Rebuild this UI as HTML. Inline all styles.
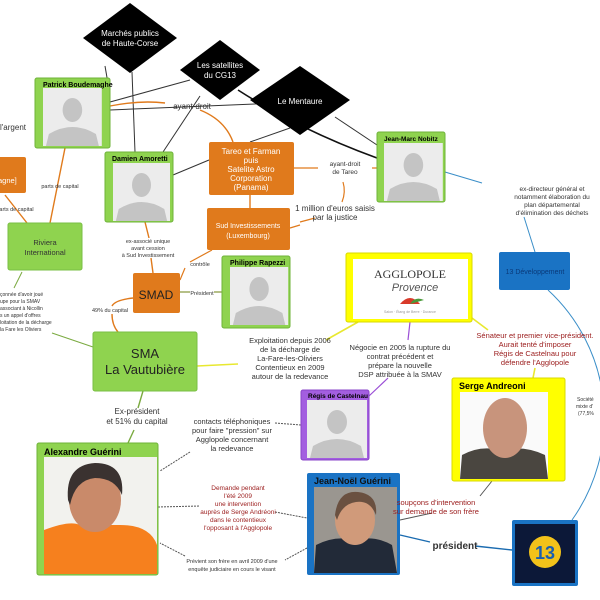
<!DOCTYPE html>
<html><head><meta charset="utf-8"><style>
body{margin:0;width:600px;height:600px;overflow:hidden;background:#fff}
svg{display:block;font-family:"Liberation Sans",sans-serif}
</style></head><body>
<svg width="600" height="600" viewBox="0 0 600 600" xmlns="http://www.w3.org/2000/svg">
<defs>
<g id="sil"><rect x="0" y="0" width="60" height="58" fill="#ececec"/><ellipse cx="30" cy="22" rx="10" ry="12" fill="#c4c4c4"/><path d="M3 58 L6 46 Q30 32 54 46 L57 58 Z" fill="#c4c4c4"/></g>
</defs>
<!-- lines -->
<g fill="none" stroke-width="1">
<path d="M110 95 L105 66" stroke="#333"/>
<path d="M132 72 L135 152" stroke="#333"/>
<path d="M110 102 L190 80" stroke="#333"/>
<path d="M110 110 L278 103" stroke="#333"/>
<path d="M200 96 L163 152" stroke="#333"/>
<path d="M238 90 Q300 130 377 158" stroke="#111" stroke-width="1.6"/>
<path d="M335 117 L377 145" stroke="#333"/>
<path d="M290 128 L250 142" stroke="#333"/>
<path d="M173 175 L209 160" stroke="#333"/>
<path d="M110 106 Q140 100 165 103" stroke="#e07a1c" stroke-width="1.4"/>
<path d="M200 110 Q225 120 233 142" stroke="#e07a1c" stroke-width="1.4"/>
<path d="M294 168 L318 168 M372 168 L377 168" stroke="#e07a1c" stroke-width="1.2"/>
<path d="M343 182 Q346 192 342 202 M300 222 L315 218" stroke="#e07a1c" stroke-width="1.2"/>
<path d="M250 195 L250 208" stroke="#e07a1c" stroke-width="1.4"/>
<path d="M290 228 L300 225" stroke="#e07a1c" stroke-width="1.2"/>
<path d="M65 148 L50 223" stroke="#e07a1c" stroke-width="1.4"/>
<path d="M5 195 L27 223" stroke="#e07a1c" stroke-width="1.4"/>
<path d="M145 222 L149 238 M151 258 L153 273" stroke="#e07a1c" stroke-width="1.4"/>
<path d="M212 250 L190 262 M185 268 L180 280" stroke="#e07a1c" stroke-width="1.2"/>
<path d="M180 292 L190 292 M214 292 L222 292" stroke="#8a9a40" stroke-width="1.2"/>
<path d="M133 298 Q115 300 112 306 M112 314 Q112 325 118 332" stroke="#e07a1c" stroke-width="1.4"/>
<path d="M22 272 L14 288 M52 333 L93 347" stroke="#7aaa40" stroke-width="1"/>
<path d="M197 366 L238 364 M326 340 L358 322" stroke="#e8e830" stroke-width="1.6"/>
<path d="M410 322 L408 340 M388 378 L369 396" stroke="#9b4fd6" stroke-width="1.2"/>
<path d="M472 318 L488 330 M535 368 L533 378" stroke="#e8e830" stroke-width="1.6"/>
<path d="M445 172 L482 183 M524 217 L535 252" stroke="#3a8ec8" stroke-width="1"/>
<path d="M143 391 L138 408 M134 430 L128 443" stroke="#7aaa40" stroke-width="1.4"/>
<path d="M190 452 L160 471 M275 423 L301 425" stroke="#555" stroke-dasharray="2 1"/>
<path d="M158 507 L200 506 M275 512 L307 518" stroke="#555" stroke-dasharray="2 1"/>
<path d="M307 548 L285 560 M185 556 L160 543" stroke="#555" stroke-dasharray="2 1"/>
<path d="M400 520 L432 513 M480 496 L492 481" stroke="#555"/>
<path d="M400 535 L430 542 M475 546 L512 550" stroke="#1a6bb0" stroke-width="1.4"/>
<path d="M548 290 A175 175 0 0 1 572 520" stroke="#3a8ec8" stroke-width="1"/>
</g>
<!-- diamonds -->
<polygon points="130,3 177,38 130,73 83,38" fill="#000"/>
<text x="130" y="36" font-size="8" fill="#fff" text-anchor="middle">Marchés publics</text>
<text x="130" y="46" font-size="8" fill="#fff" text-anchor="middle">de Haute-Corse</text>
<polygon points="220,40 260,70 220,100 180,70" fill="#000"/>
<text x="220" y="68" font-size="8" fill="#fff" text-anchor="middle">Les satellites</text>
<text x="220" y="78" font-size="8" fill="#fff" text-anchor="middle">du CG13</text>
<polygon points="300,66 350,100 300,135 250,100" fill="#000"/>
<text x="300" y="104" font-size="8" fill="#fff" text-anchor="middle">Le Mentaure</text>
<!-- person boxes -->
<rect x="35" y="78" width="75" height="70" rx="2" fill="#8fd34f" stroke="#6fb33a"/>
<text x="43" y="87" font-size="7" font-weight="bold">Patrick Boudemaghe</text>
<use href="#sil" transform="translate(43,88) scale(0.98,1)"/>
<rect x="105" y="152" width="68" height="70" rx="2" fill="#8fd34f" stroke="#6fb33a"/>
<text x="112" y="161" font-size="7" font-weight="bold">Damien Amoretti</text>
<use href="#sil" transform="translate(113,163) scale(0.95,1)"/>
<rect x="222" y="256" width="68" height="72" rx="2" fill="#8fd34f" stroke="#6fb33a"/>
<text x="230" y="265" font-size="7" font-weight="bold">Philippe Rapezzi</text>
<use href="#sil" transform="translate(230,267) scale(0.97,1)"/>
<rect x="377" y="132" width="68" height="70" rx="2" fill="#8fd34f" stroke="#6fb33a"/>
<text x="384" y="141" font-size="6.5" font-weight="bold">Jean-Marc Nobitz</text>
<use href="#sil" transform="translate(384,143) scale(0.98,1)"/>
<rect x="301" y="390" width="68" height="70" rx="2" fill="#a35ee0" stroke="#8a44c8"/>
<text x="308" y="398" font-size="6.5" font-weight="bold">Régis de Castelnau</text>
<use href="#sil" transform="translate(307,400) scale(1,1)"/>
<!-- orange boxes -->
<rect x="209" y="142" width="85" height="53" rx="2" fill="#e07a1c"/>
<g fill="#fff" font-size="8" text-anchor="middle"><text x="251" y="154">Tareo et Farman</text><text x="251" y="163">puis</text><text x="251" y="172">Satelite Astro</text><text x="251" y="181">Corporation</text><text x="251" y="190">(Panama)</text></g>
<rect x="207" y="208" width="83" height="42" rx="2" fill="#e07a1c"/>
<g fill="#fff" font-size="7" text-anchor="middle"><text x="248" y="228">Sud Investissements</text><text x="248" y="238">(Luxembourg)</text></g>
<rect x="-5" y="157" width="31" height="36" rx="2" fill="#e07a1c"/>
<text x="-2" y="183" font-size="7.5" fill="#fff">agne]</text>
<rect x="133" y="273" width="47" height="40" rx="2" fill="#e07a1c"/>
<text x="156" y="299" font-size="12" text-anchor="middle" fill="#222">SMAD</text>
<!-- green boxes -->
<rect x="8" y="223" width="74" height="47" rx="2" fill="#8fd34f" stroke="#7abf44"/>
<g font-size="7.5" text-anchor="middle" fill="#333"><text x="45" y="245">Riviera</text><text x="45" y="255">International</text></g>
<rect x="93" y="332" width="104" height="59" rx="2" fill="#8fd34f" stroke="#7abf44"/>
<g font-size="13" text-anchor="middle" fill="#222"><text x="145" y="358">SMA</text><text x="145" y="374">La Vautubière</text></g>
<!-- Alexandre -->
<rect x="37" y="443" width="121" height="132" rx="2" fill="#8fd34f" stroke="#6fb33a"/>
<text x="44" y="455" font-size="9" font-weight="bold">Alexandre Guérini</text>
<rect x="44" y="457" width="113" height="117" fill="#f2f2ee"/>
<path d="M44 574 L44 530 Q70 520 80 525 L120 525 Q150 525 157 545 L157 574 Z" fill="#f6801e"/>
<ellipse cx="95" cy="500" rx="26" ry="32" fill="#c98a6a"/>
<path d="M68 500 Q65 465 95 463 Q125 463 122 495 Q115 478 95 478 Q75 480 70 505 Z" fill="#3a3230"/>
<!-- blue boxes -->
<rect x="499" y="252" width="71" height="38" rx="2" fill="#1a73c4"/>
<text x="535" y="274" font-size="7" text-anchor="middle" fill="#0a3a7a">13 Développement</text>
<rect x="307" y="473" width="93" height="102" rx="2" fill="#1a73c4"/>
<text x="314" y="484" font-size="9" font-weight="bold" fill="#111">Jean-Noël Guérini</text>
<rect x="314" y="487" width="83" height="86" fill="#9a9690"/>
<path d="M314 573 L316 545 Q335 535 355 540 Q375 535 392 545 L397 573 Z" fill="#222a38"/>
<ellipse cx="355" cy="520" rx="20" ry="25" fill="#d09a7a"/>
<path d="M335 515 Q338 490 358 492 Q378 494 376 515 Q370 500 356 502 Q342 504 337 520Z" fill="#6a5040"/>
<rect x="512" y="520" width="66" height="66" rx="2" fill="#1a73c4"/>
<rect x="515" y="524" width="60" height="59" fill="#0c1838"/>
<circle cx="545" cy="552" r="16" fill="#f2c21a"/>
<text x="545" y="559" font-size="18" font-weight="bold" text-anchor="middle" fill="#1a5eb0">13</text>
<!-- yellow boxes -->
<rect x="346" y="253" width="126" height="69" rx="2" fill="#ffff00" stroke="#d8d800"/>
<rect x="353" y="259" width="115" height="60" fill="#fff"/>
<text x="410" y="278" font-size="12" font-family="Liberation Serif,serif" text-anchor="middle" fill="#333">AGGLOPOLE</text>
<text x="415" y="291" font-size="11" font-style="italic" text-anchor="middle" fill="#555">Provence</text>
<path d="M400 304 Q410 292 420 304 Z" fill="#d83a2a"/><path d="M410 304 Q415 296 424 300 Z" fill="#4a9a3a"/>
<text x="410" y="313" font-size="3.5" text-anchor="middle" fill="#999">Salon · Étang de Berre · Durance</text>
<rect x="452" y="378" width="113" height="103" rx="2" fill="#ffff00" stroke="#d8d800"/>
<text x="459" y="389" font-size="9" font-weight="bold">Serge Andreoni</text>
<rect x="460" y="392" width="88" height="87" fill="#fafafa"/>
<path d="M460 479 L462 455 Q480 445 500 450 Q525 445 545 455 L548 479 Z" fill="#4a4640"/>
<ellipse cx="505" cy="428" rx="22" ry="30" fill="#c8947c"/>
<!-- labels -->
<g font-size="8" fill="#333" text-anchor="middle">
<text x="192" y="109">ayant-droit</text>
<text x="345" y="166" font-size="6.5">ayant-droit</text><text x="345" y="174" font-size="6.5">de Tareo</text>
<text x="335" y="211">1 million d'euros saisis</text><text x="335" y="220">par la justice</text>
<text x="60" y="188" font-size="5.5">parts de capital</text>
<text x="15" y="211" font-size="5.5">parts de capital</text>
<text x="148" y="243" font-size="5.5">ex-associé unique</text><text x="148" y="250" font-size="5.5">avant cession</text><text x="148" y="257" font-size="5.5">à Sud Investissement</text>
<text x="200" y="266" font-size="5.5">contrôle</text>
<text x="202" y="295" font-size="5.5">Président</text>
<text x="110" y="312" font-size="5.5">49% du capital</text>
<text x="290" y="343" font-size="7.5">Exploitation depuis 2006</text><text x="290" y="352" font-size="7.5">de la décharge de</text><text x="290" y="361" font-size="7.5">La-Fare-les-Oliviers</text><text x="290" y="370" font-size="7.5">Contentieux en 2009</text><text x="290" y="379" font-size="7.5">autour de la redevance</text>
<text x="400" y="350" font-size="7.5">Négocie en 2005 la rupture du</text><text x="400" y="359" font-size="7.5">contrat précédent et</text><text x="400" y="368" font-size="7.5">prépare la nouvelle</text><text x="400" y="377" font-size="7.5">DSP attribuée à la SMAV</text>
<text x="552" y="191" font-size="6.5">ex-directeur général et</text><text x="552" y="199" font-size="6.5">notamment élaboration du</text><text x="552" y="207" font-size="6.5">plan départemental</text><text x="552" y="215" font-size="6.5">d'élimination des déchets</text>
<text x="137" y="414" font-size="8">Ex-président</text><text x="137" y="424" font-size="8">et 51% du capital</text>
<text x="232" y="424" font-size="7.5">contacts téléphoniques</text><text x="232" y="433" font-size="7.5">pour faire "pression" sur</text><text x="232" y="442" font-size="7.5">Agglopole concernant</text><text x="232" y="451" font-size="7.5">la redevance</text>
<text x="232" y="563" font-size="5.5">Prévient son frère en avril 2009 d'une</text><text x="232" y="571" font-size="5.5">enquête judiciaire en cours le visant</text>
<text x="455" y="549" font-size="10" font-weight="bold">président</text>
</g>
<g font-size="6.5" fill="#9a1a1a" text-anchor="middle">
<text x="238" y="490">Demande pendant</text><text x="238" y="498">l'été 2009</text><text x="238" y="506">une intervention</text><text x="238" y="514">auprès de Serge Andréoni</text><text x="238" y="522">dans le contentieux</text><text x="238" y="530">l'opposant à l'Agglopole</text>
</g>
<g font-size="7.5" fill="#9a1a1a" text-anchor="middle">
<text x="535" y="338">Sénateur et premier vice-président.</text><text x="535" y="347">Aurait tenté d'imposer</text><text x="535" y="356">Régis de Castelnau pour</text><text x="535" y="365">défendre l'Agglopole</text>
<text x="436" y="505">soupçons d'intervention</text><text x="436" y="514">sur demande de son frère</text>
</g>
<g font-size="5" fill="#333">
<text x="0" y="296">çonnée d'avoir joué</text><text x="0" y="303">upe pour la SMAV</text><text x="0" y="310">associant à Nicollin</text><text x="0" y="317">s un appel d'offres</text><text x="0" y="324">loitation de la décharge</text><text x="0" y="331">la Fare les Oliviers</text>
<text x="577" y="401">Société</text><text x="576" y="408">mixte d'</text><text x="578" y="415">(77,5%</text>
</g>
<text x="0" y="130" font-size="8" fill="#333">l'argent</text>
</svg>
</body></html>
